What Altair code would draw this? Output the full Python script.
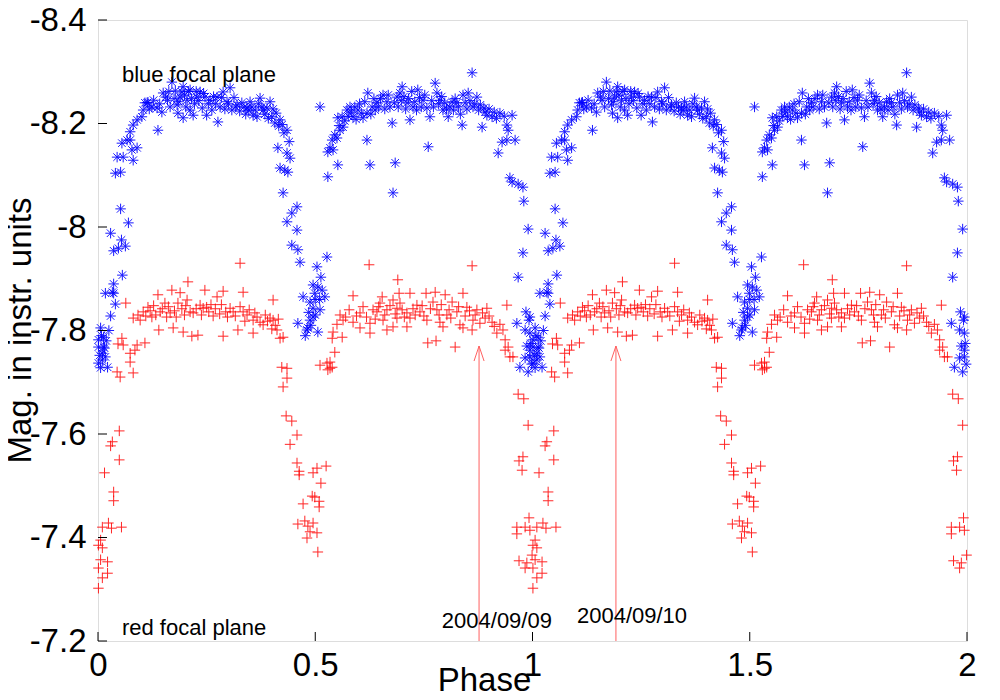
import altair as alt
import pandas as pd

# ---------------- data (one phase cycle) ----------------
blue_phase = [
    0.953, 0.948, 0.967, 0.978, 0.980, 0.990, 0.978, 0.967, 0.964, 0.985, 0.994, 0.992, 0.983, 0.994,
    0.001, 0.006, 0.013, 0.001, 0.013, 0.994, 0.971, 0.983, 0.990, 0.001, 0.010, 0.017, 0.006, 0.022,
    0.994, 0.010, 0.015, 0.996, 0.004, 0.019, 0.987, 0.008, 0.025, 0.998,
    0.029, 0.040, 0.056, 0.054, 0.052, 0.070, 0.029, 0.036, 0.047, 0.063, 0.017, 0.036, 0.036, 0.033,
    0.040, 0.052,
    0.044, 0.058, 0.055, 0.067, 0.074, 0.078, 0.090, 0.081, 0.074, 0.081, 0.090, 0.101, 0.104, 0.108,
    0.115, 0.138,
    0.113, 0.124, 0.136, 0.150, 0.156, 0.170, 0.166, 0.182, 0.189, 0.193, 0.196, 0.205, 0.212, 0.219,
    0.196, 0.228, 0.235, 0.246, 0.250, 0.258, 0.274, 0.276, 0.288, 0.297, 0.304, 0.320, 0.331, 0.343,
    0.350, 0.357, 0.366, 0.373, 0.380, 0.396, 0.400, 0.407, 0.419, 0.435, 0.212, 0.184,
    0.118, 0.128, 0.142, 0.147, 0.160, 0.163, 0.175, 0.178, 0.186, 0.199, 0.202, 0.208, 0.215, 0.222,
    0.226, 0.232, 0.240, 0.243, 0.254, 0.262, 0.266, 0.270, 0.281, 0.284, 0.292, 0.300, 0.308, 0.313,
    0.317, 0.326, 0.336, 0.340, 0.347, 0.354, 0.362, 0.369, 0.377, 0.384, 0.389, 0.392, 0.403, 0.410,
    0.416, 0.424, 0.428, 0.440,
    0.414, 0.435, 0.442, 0.419, 0.430, 0.437, 0.426, 0.458, 0.446, 0.435, 0.458, 0.446, 0.460, 0.465,
    0.504, 0.527, 0.513, 0.495, 0.506, 0.499, 0.516, 0.472, 0.522, 0.488, 0.495, 0.511, 0.460, 0.488,
    0.483, 0.506, 0.495, 0.481, 0.490, 0.500, 0.477, 0.485, 0.500, 0.510,
    0.511, 0.619, 0.626, 0.684, 0.760, 0.679, 0.529, 0.552, 0.861,
    0.534, 0.529, 0.541, 0.539, 0.550, 0.557, 0.564, 0.552, 0.562, 0.573, 0.587, 0.580, 0.598, 0.610,
    0.619, 0.621, 0.631, 0.642, 0.656, 0.665, 0.672, 0.677, 0.688, 0.695, 0.700, 0.711, 0.718, 0.725,
    0.736, 0.748, 0.757, 0.764, 0.776, 0.780, 0.787, 0.794, 0.806, 0.815, 0.826, 0.838, 0.840, 0.852,
    0.863, 0.872, 0.884, 0.891, 0.907, 0.925, 0.941, 0.953, 0.944, 0.930, 0.941, 0.960, 0.921,
    0.545, 0.555, 0.568, 0.576, 0.583, 0.591, 0.594, 0.602, 0.606, 0.614, 0.628, 0.635, 0.638, 0.646,
    0.650, 0.660, 0.668, 0.682, 0.691, 0.698, 0.704, 0.708, 0.715, 0.722, 0.729, 0.733, 0.740, 0.744,
    0.752, 0.768, 0.772, 0.784, 0.791, 0.798, 0.802, 0.810, 0.818, 0.822, 0.830, 0.834, 0.845, 0.849,
    0.856, 0.867, 0.876, 0.880, 0.888, 0.895, 0.900, 0.912, 0.917, 0.935,
]
blue_mag = [
    -8.087, -8.095, -8.083, -8.077, -8.050, -7.996, -7.950, -7.903, -7.814, -7.836, -7.826, -7.820, -7.801, -7.795,
    -7.782, -7.805, -7.787, -7.768, -7.768, -7.762, -7.729, -7.747, -7.720, -7.737, -7.743, -7.749, -7.728, -7.729,
    -7.749, -7.756, -7.766, -7.775, -7.752, -7.780, -7.770, -7.790, -7.800, -7.735,
    -7.828, -7.851, -7.907, -7.975, -8.035, -8.008, -7.988, -7.954, -7.959, -7.963, -7.872, -7.872, -7.890, -7.874,
    -8.104, -8.106,
    -8.135, -8.135, -8.162, -8.168, -8.168, -8.149, -8.153, -8.129, -8.184, -8.197, -8.207, -8.213, -8.226, -8.240,
    -8.241, -8.187,
    -8.240, -8.232, -8.230, -8.259, -8.251, -8.280, -8.232, -8.236, -8.251, -8.261, -8.271, -8.245, -8.226, -8.216,
    -8.211, -8.251, -8.261, -8.251, -8.216, -8.245, -8.251, -8.203, -8.261, -8.242, -8.269, -8.236, -8.240, -8.230,
    -8.242, -8.216, -8.213, -8.249, -8.226, -8.242, -8.213, -8.201, -8.207, -8.187, -8.265, -8.220,
    -8.228, -8.245, -8.238, -8.222, -8.245, -8.262, -8.248, -8.263, -8.242, -8.255, -8.232, -8.262, -8.248, -8.238,
    -8.262, -8.244, -8.230, -8.258, -8.238, -8.226, -8.252, -8.238, -8.232, -8.250, -8.228, -8.238, -8.226, -8.250,
    -8.232, -8.224, -8.232, -8.218, -8.226, -8.232, -8.226, -8.238, -8.232, -8.218, -8.230, -8.210, -8.228, -8.220,
    -8.195, -8.198, -8.182, -8.165,
    -8.153, -8.143, -8.133, -8.114, -8.110, -8.106, -8.066, -8.039, -8.027, -8.010, -7.994, -7.965, -7.956, -7.932,
    -7.923, -7.942, -7.903, -7.888, -7.884, -7.872, -7.878, -7.865, -7.865, -7.855, -7.843, -7.840, -7.814, -7.820,
    -7.805, -7.797, -7.826, -7.801, -7.810, -7.830, -7.790, -7.835, -7.860, -7.860,
    -8.232, -8.168, -8.120, -8.124, -8.155, -8.066, -8.097, -8.120, -8.298,
    -8.153, -8.145, -8.149, -8.168, -8.172, -8.187, -8.193, -8.211, -8.213, -8.226, -8.213, -8.232, -8.226, -8.211,
    -8.220, -8.259, -8.232, -8.240, -8.255, -8.242, -8.232, -8.201, -8.251, -8.259, -8.271, -8.240, -8.207, -8.232,
    -8.265, -8.245, -8.230, -8.213, -8.278, -8.259, -8.245, -8.226, -8.213, -8.242, -8.240, -8.197, -8.255, -8.259,
    -8.232, -8.251, -8.193, -8.222, -8.213, -8.220, -8.197, -8.216, -8.187, -8.164, -8.168, -8.168, -8.143,
    -8.178, -8.196, -8.205, -8.214, -8.222, -8.232, -8.208, -8.238, -8.220, -8.242, -8.218, -8.248, -8.226, -8.232,
    -8.248, -8.228, -8.255, -8.240, -8.232, -8.244, -8.252, -8.228, -8.248, -8.262, -8.242, -8.226, -8.250, -8.232,
    -8.255, -8.244, -8.232, -8.238, -8.252, -8.240, -8.228, -8.232, -8.226, -8.248, -8.232, -8.218, -8.240, -8.228,
    -8.244, -8.238, -8.226, -8.236, -8.230, -8.216, -8.228, -8.222, -8.210, -8.214,
]

red_phase = [
    0.967, 0.980, 0.990, 0.049, 0.033, 0.029, 0.978, 0.969, 0.976, 0.049, 0.015, 0.036, 0.036, 0.992,
    0.964, 0.964, 0.983, 0.994, 0.010, 0.024, 0.031, 0.054, 0.001, 0.010, 0.006, 0.969, 0.987, 0.999,
    0.006, 0.022, 0.983, 0.001, 0.022, 0.010, 0.001,
    0.055, 0.046, 0.058, 0.090, 0.108, 0.074, 0.085, 0.074, 0.081, 0.044, 0.051, 0.064,
    0.327, 0.207, 0.170, 0.246, 0.138, 0.189, 0.288, 0.334, 0.274, 0.403, 0.235, 0.242, 0.205, 0.184,
    0.154, 0.115, 0.104, 0.081, 0.097, 0.143, 0.166, 0.124, 0.212, 0.219, 0.304, 0.311, 0.334, 0.343,
    0.361, 0.357, 0.373, 0.396, 0.403, 0.380, 0.412, 0.419, 0.426, 0.140, 0.173, 0.196, 0.216, 0.230,
    0.288, 0.322, 0.357, 0.400,
    0.092, 0.110, 0.120, 0.128, 0.133, 0.148, 0.158, 0.162, 0.176, 0.180, 0.193, 0.199, 0.202, 0.226,
    0.238, 0.250, 0.255, 0.260, 0.265, 0.270, 0.280, 0.284, 0.294, 0.298, 0.316, 0.327, 0.338, 0.348,
    0.366, 0.385, 0.390, 0.408, 0.415,
    0.423, 0.435, 0.435, 0.426, 0.433, 0.446, 0.458, 0.442, 0.458, 0.463, 0.463, 0.495, 0.504, 0.525,
    0.513, 0.472, 0.493, 0.499, 0.509, 0.509, 0.460, 0.476, 0.483, 0.495, 0.488, 0.504, 0.481, 0.506,
    0.511, 0.527, 0.534, 0.539, 0.529, 0.545,
    0.624, 0.861, 0.690, 0.587, 0.654, 0.693, 0.718, 0.755, 0.776, 0.799, 0.840, 0.941, 0.649, 0.679,
    0.695, 0.734, 0.771, 0.815, 0.849, 0.872, 0.895, 0.557, 0.603, 0.642, 0.665, 0.688, 0.711, 0.741,
    0.780, 0.803, 0.826, 0.863, 0.891, 0.907, 0.564, 0.587, 0.626, 0.656, 0.688, 0.718, 0.757, 0.787,
    0.833, 0.879, 0.918, 0.932, 0.937, 0.955, 0.541, 0.562, 0.539, 0.603, 0.626, 0.665, 0.679, 0.711,
    0.794, 0.840, 0.861, 0.759, 0.778, 0.822, 0.534, 0.937, 0.944, 0.948,
    0.550, 0.570, 0.578, 0.595, 0.610, 0.618, 0.633, 0.638, 0.646, 0.660, 0.672, 0.684, 0.700, 0.705,
    0.725, 0.730, 0.746, 0.750, 0.765, 0.785, 0.790, 0.808, 0.812, 0.830, 0.845, 0.855, 0.868, 0.885,
    0.900, 0.912, 0.925,
]
red_mag = [
    -7.677, -7.668, -7.617, -7.606, -7.585, -7.577, -7.556, -7.548, -7.530, -7.550, -7.525, -7.488, -7.471, -7.438,
    -7.420, -7.407, -7.420, -7.414, -7.420, -7.428, -7.418, -7.420, -7.385, -7.380, -7.395, -7.355, -7.351, -7.366,
    -7.357, -7.353, -7.341, -7.341, -7.331, -7.322, -7.302,
    -7.785, -7.774, -7.772, -7.772, -7.776, -7.756, -7.762, -7.739, -7.718, -7.720, -7.710, -7.853,
    -7.930, -7.894, -7.878, -7.878, -7.869, -7.873, -7.876, -7.874, -7.865, -7.859, -7.849, -7.843, -7.859, -7.853,
    -7.853, -7.845, -7.836, -7.824, -7.820, -7.836, -7.834, -7.826, -7.836, -7.834, -7.843, -7.836, -7.836, -7.830,
    -7.834, -7.820, -7.816, -7.824, -7.820, -7.811, -7.801, -7.785, -7.787, -7.801, -7.805, -7.797, -7.789, -7.791,
    -7.789, -7.801, -7.795, -7.803,
    -7.830, -7.828, -7.838, -7.848, -7.830, -7.842, -7.826, -7.846, -7.838, -7.826, -7.842, -7.830, -7.848, -7.842,
    -7.830, -7.845, -7.836, -7.850, -7.828, -7.842, -7.832, -7.850, -7.836, -7.826, -7.828, -7.846, -7.818, -7.840,
    -7.826, -7.830, -7.818, -7.810, -7.822,
    -7.729, -7.727, -7.708, -7.691, -7.635, -7.625, -7.598, -7.580, -7.544, -7.528, -7.521, -7.525, -7.534, -7.538,
    -7.505, -7.465, -7.480, -7.478, -7.470, -7.459, -7.426, -7.432, -7.422, -7.428, -7.411, -7.409, -7.399, -7.372,
    -7.733, -7.737, -7.727, -7.729, -7.724, -7.758,
    -7.927, -7.925, -7.898, -7.867, -7.865, -7.872, -7.872, -7.872, -7.874, -7.869, -7.872, -7.849, -7.853, -7.859,
    -7.853, -7.849, -7.855, -7.855, -7.845, -7.840, -7.843, -7.830, -7.834, -7.836, -7.840, -7.843, -7.834, -7.836,
    -7.840, -7.830, -7.836, -7.820, -7.824, -7.816, -7.820, -7.816, -7.814, -7.820, -7.824, -7.824, -7.820, -7.816,
    -7.811, -7.814, -7.795, -7.801, -7.762, -7.749, -7.797, -7.787, -7.785, -7.805, -7.795, -7.801, -7.807, -7.807,
    -7.807, -7.805, -7.801, -7.776, -7.780, -7.768, -7.739, -7.782, -7.768, -7.749,
    -7.812, -7.826, -7.840, -7.828, -7.846, -7.826, -7.840, -7.822, -7.846, -7.830, -7.848, -7.832, -7.840, -7.826,
    -7.842, -7.830, -7.848, -7.828, -7.842, -7.830, -7.850, -7.840, -7.824, -7.846, -7.828, -7.838, -7.830, -7.834,
    -7.828, -7.808, -7.812,
]

x_ticks = [0, 0.5, 1, 1.5, 2]
y_ticks = [-8.4, -8.2, -8.0, -7.8, -7.6, -7.4, -7.2]

arrow_phase = [0.877, 1.192]
arrow_tip = [-7.77, -7.77]
arrow_base = [-7.2, -7.2]
date_labels = ["2004/09/09", "2004/09/10"]
date_phase = [0.918, 1.229]
date_mag = [-7.225, -7.235]

plane_labels = ["blue focal plane", "red focal plane"]
plane_phase = [0.055, 0.055]
plane_mag = [-8.28, -7.212]


# ---------------- tables ----------------
def fold(ph, mg):
    rows = []
    for p, m in zip(ph, mg):
        for k in (0, 1):
            if 0 <= p + k <= 2:
                rows.append({"phase": p + k, "mag": m})
    return pd.DataFrame(rows)


blue_df = fold(blue_phase, blue_mag)
red_df = fold(red_phase, red_mag)
arrow_df = pd.DataFrame({"phase": arrow_phase, "mag": arrow_tip, "mag2": arrow_base})
date_df = pd.DataFrame({"phase": date_phase, "mag": date_mag, "label": date_labels})
plane_df = pd.DataFrame({"phase": plane_phase, "mag": plane_mag, "label": plane_labels})
ytick_df = pd.DataFrame({"mag": y_ticks})
xtick_df = pd.DataFrame({"phase": x_ticks})

FONT = "Liberation Sans"
W, H = 869, 621

xscale = alt.Scale(domain=[0, 2], nice=False, zero=False)
yscale = alt.Scale(domain=[-8.4, -7.2], nice=False, zero=False, reverse=True)

xaxis = alt.Axis(
    values=x_ticks, labelExpr="toString(datum.value)", title="Phase",
    grid=False, ticks=False, domain=False, labelFont=FONT, labelFontSize=33,
    labelColor="black", labelPadding=8, labelFlush=False,
    titleFont=FONT, titleFontSize=33, titleFontWeight="normal", titleColor="black",
    titleX=386, titleY=49, titleBaseline="alphabetic", titleAlign="center",
)
yaxis = alt.Axis(
    values=y_ticks, labelExpr="toString(datum.value)", title="Mag. in instr. units",
    grid=False, ticks=False, domain=False, labelFont=FONT, labelFontSize=33,
    labelColor="black", labelPadding=12, labelFlush=False,
    titleFont=FONT, titleFontSize=33, titleFontWeight="normal", titleColor="black",
    titleX=-68, titleY=310, titleAngle=-90, titleBaseline="alphabetic", titleAlign="center",
)


def X():
    return alt.X("phase:Q", scale=xscale, axis=xaxis)


def Y():
    return alt.Y("mag:Q", scale=yscale, axis=yaxis)


PLUS = "M-1,0L1,0M0,-1L0,1"
STAR = "M-1,0L1,0M0,-1L0,1M-0.72,-0.72L0.72,0.72M-0.72,0.72L0.72,-0.72"
HEAD = "M-0.67,2L0,0L0.67,2"

blue = alt.Chart(blue_df).mark_point(
    shape=STAR, size=110, filled=False, strokeWidth=1, color="#0000ff", opacity=0.9
).encode(x=X(), y=Y())

red = alt.Chart(red_df).mark_point(
    shape=PLUS, size=110, filled=False, strokeWidth=1, color="#ff0000", opacity=0.85
).encode(x=X(), y=Y())

arrows = alt.Chart(arrow_df).mark_rule(color="#ff6060", strokeWidth=1).encode(
    x=X(), y=Y(), y2="mag2:Q"
)
heads = alt.Chart(arrow_df).mark_point(
    shape=HEAD, size=225, filled=False, strokeWidth=1, color="#ff6060", opacity=1
).encode(x=X(), y=Y())

dates = alt.Chart(date_df).mark_text(
    font=FONT, fontSize=22, color="black", align="center", baseline="alphabetic"
).encode(x=X(), y=Y(), text="label:N")

planes = alt.Chart(plane_df).mark_text(
    font=FONT, fontSize=22, color="black", align="left", baseline="alphabetic"
).encode(x=X(), y=Y(), text="label:N")

yticks = alt.Chart(ytick_df).mark_rule(color="black", strokeWidth=1).encode(
    y=Y(), x=alt.value(0), x2=alt.value(9)
)
xticks = alt.Chart(xtick_df).mark_rule(color="black", strokeWidth=1).encode(
    x=X(), y=alt.value(H), y2=alt.value(H - 9)
)

chart = alt.layer(blue, red, arrows, heads, dates, planes, yticks, xticks).properties(
    width=W, height=H,
    autosize=alt.AutoSizeParams(type="none"),
    padding={"left": 90, "top": 12, "right": 20, "bottom": 50},
).configure_view(
    stroke="black", strokeWidth=1.5
).configure(background="white")

chart.save("out.html", embed_options={"renderer": "svg", "actions": False})
